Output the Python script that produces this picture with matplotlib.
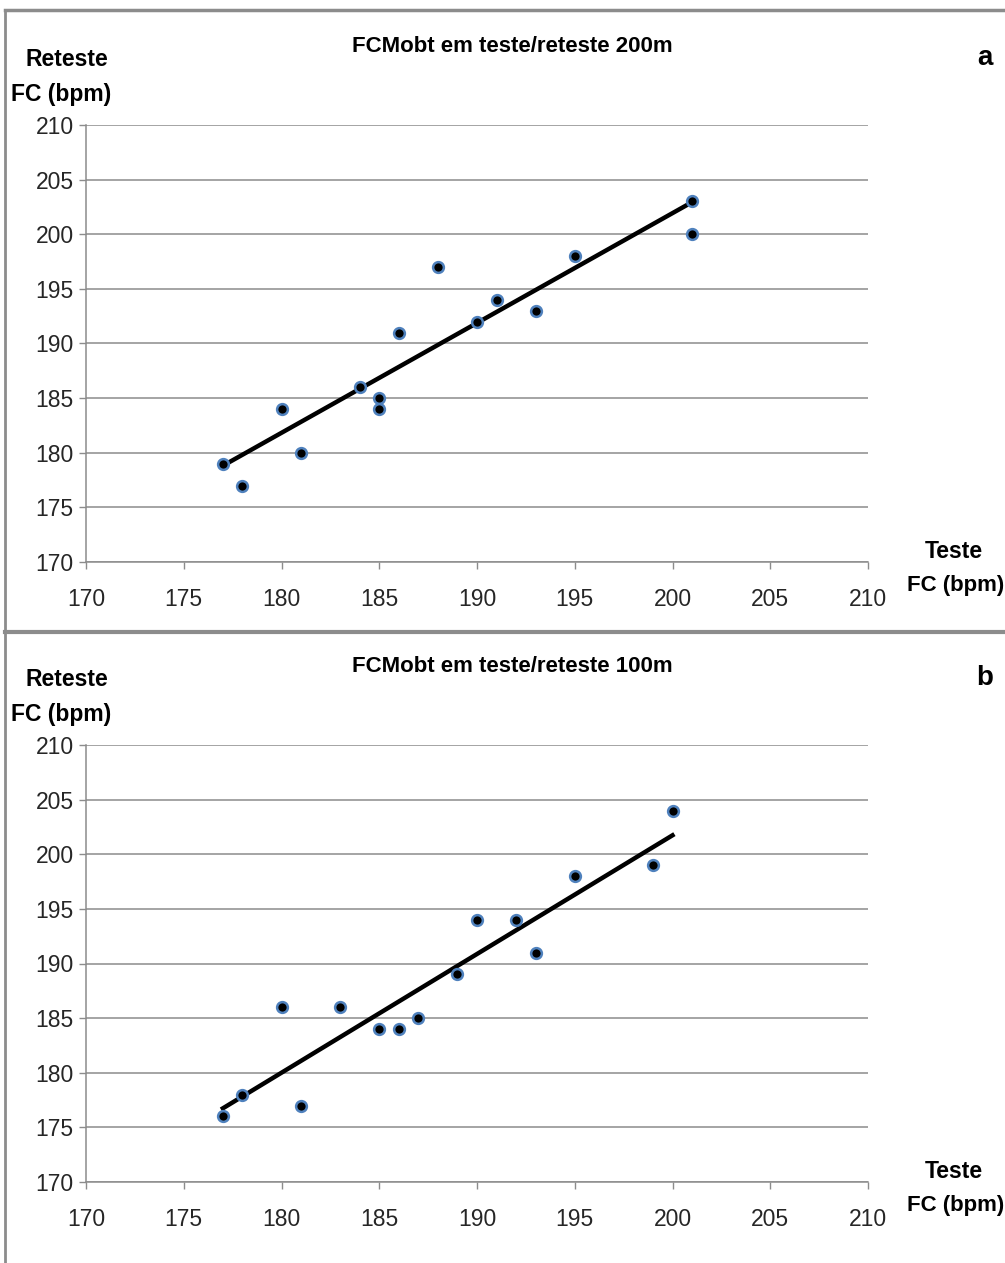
import numpy as np
import matplotlib
matplotlib.use("Agg")
import matplotlib.pyplot as plt
from matplotlib.lines import Line2D

plt.rcParams['font.family'] = ['Liberation Sans', 'DejaVu Sans']

# panel a: 200m
teste_200 = [177, 178, 180, 181, 184, 185, 185, 186, 188, 190, 191, 193, 195, 201, 201]
reteste_200 = [179, 177, 184, 180, 186, 185, 184, 191, 197, 192, 194, 193, 198, 203, 200]

# panel b: 100m
teste_100 = [177, 178, 180, 181, 183, 185, 186, 187, 189, 190, 192, 193, 195, 199, 200]
reteste_100 = [176, 178, 186, 177, 186, 184, 184, 185, 189, 194, 194, 191, 198, 199, 204]

ticks = [170, 175, 180, 185, 190, 195, 200, 205, 210]
titles = ["FCMobt em teste/reteste 200m", "FCMobt em teste/reteste 100m"]
letters = ["a", "b"]

W, H = 1005, 1263
fig = plt.figure(figsize=(W / 100, H / 100), dpi=100)
fig.patch.set_facecolor("white")

def fx(px):
    return px / W

def fy(py):
    return 1 - py / H

panels = [
    (teste_200, reteste_200, 125, 562, 0),
    (teste_100, reteste_100, 745, 1182, 620),
]

for i, (x, y, top, bot, off) in enumerate(panels):
    ax = fig.add_axes([fx(86), fy(bot), fx(868) - fx(86), fy(top) - fy(bot)])
    ax.set_xlim(170, 210)
    ax.set_ylim(170, 210)
    ax.set_xticks(ticks)
    ax.set_yticks(ticks)
    ax.grid(axis="y", color="#8c8c8c", linewidth=1.1)
    ax.set_axisbelow(True)
    for s in ["top", "right"]:
        ax.spines[s].set_visible(False)
    for s in ["left", "bottom"]:
        ax.spines[s].set_color("#8c8c8c")
        ax.spines[s].set_linewidth(1.1)
    ax.tick_params(axis="both", colors="#8c8c8c", labelcolor="#262626",
                   labelsize=16.5, length=5, width=1)
    ax.tick_params(axis="x", pad=14)
    ax.tick_params(axis="y", pad=4)

    # linear trendline
    k, b = np.polyfit(x, y, 1)
    xs = np.array([min(x), max(x)])
    ax.plot(xs, k * xs + b, color="black", linewidth=3.2, zorder=2)
    ax.scatter(x, y, s=60, facecolor="black", edgecolor="#4f81bd",
               linewidth=1.8, zorder=3, clip_on=False)

    fig.text(fx(512), fy(47 + off), titles[i], ha="center", va="center",
             fontsize=16, fontweight="bold")
    fig.text(fx(25), fy(60 + off), "Reteste", ha="left", va="center",
             fontsize=16.5, fontweight="bold")
    fig.text(fx(11), fy(94 + off), "FC (bpm)", ha="left", va="center",
             fontsize=16.5, fontweight="bold")
    fig.text(fx(985), fy(58 + off), letters[i], ha="center", va="center",
             fontsize=20, fontweight="bold")
    fig.text(fx(983), fy(551 + off), "Teste", ha="right", va="center",
             fontsize=16.5, fontweight="bold")
    fig.text(fx(1004), fy(585 + off), "FC (bpm)", ha="right", va="center",
             fontsize=16, fontweight="bold")

# frame lines
border = "#8c8c8c"
fig.add_artist(Line2D([fx(5), fx(1005)], [fy(10), fy(10)], color=border, linewidth=2.5))
fig.add_artist(Line2D([fx(5), fx(5)], [fy(10), fy(1263)], color=border, linewidth=2))
fig.add_artist(Line2D([fx(5), fx(1005)], [fy(632), fy(632)], color=border, linewidth=3))

fig.savefig("out.png", dpi=100, facecolor="white")
